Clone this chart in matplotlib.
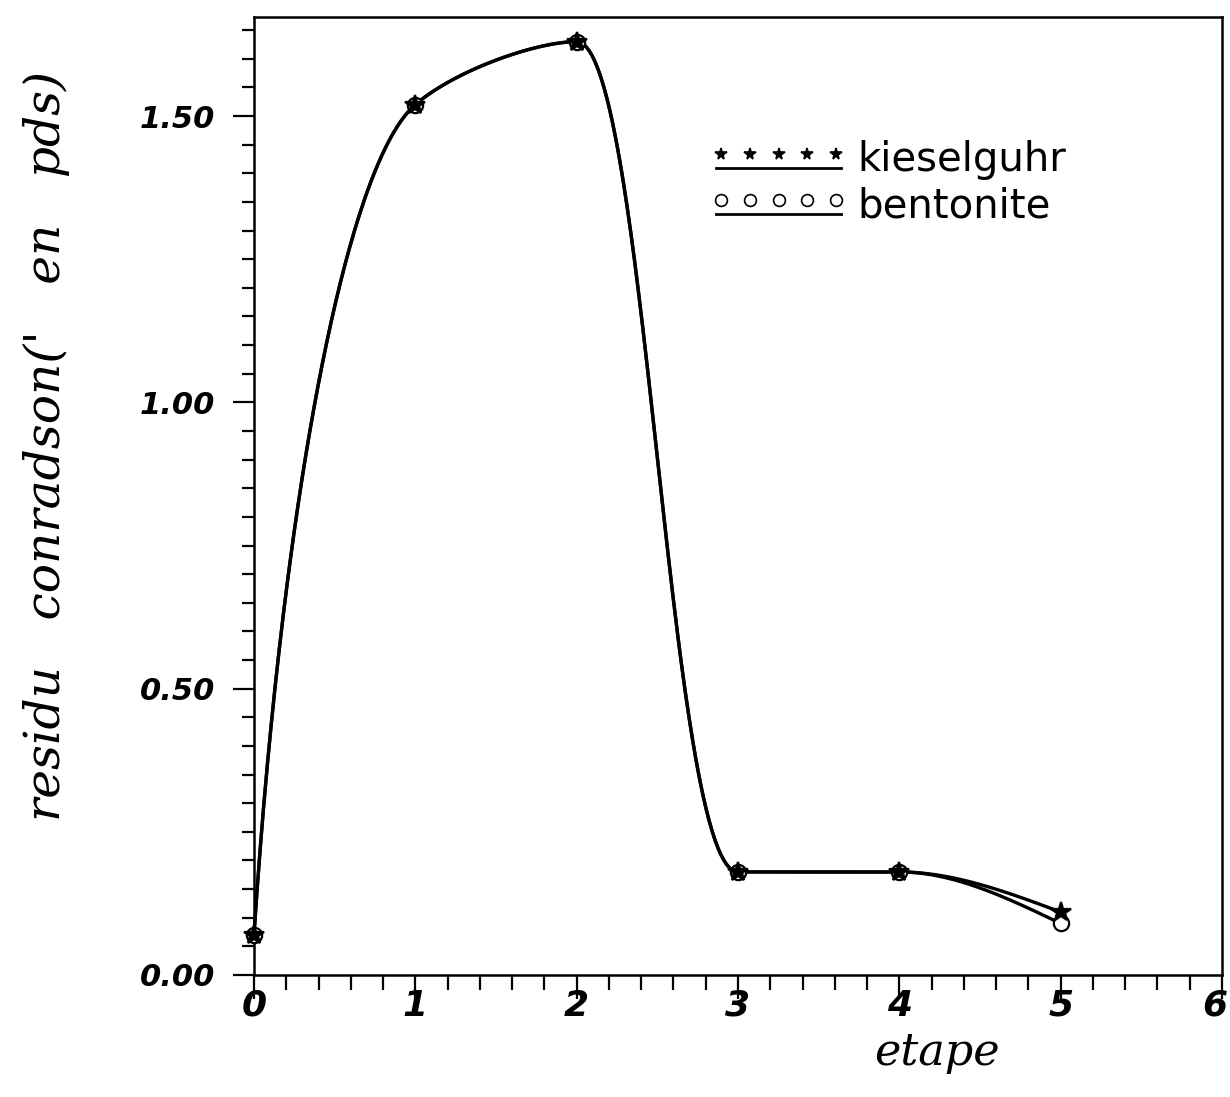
import numpy as np
import matplotlib
matplotlib.use("Agg")
import matplotlib.pyplot as plt
import matplotlib.transforms as mtrans
from matplotlib.lines import Line2D
from matplotlib.legend_handler import HandlerBase
from matplotlib.ticker import MultipleLocator

# ---- data ----
etape = [0, 1, 2, 3, 4, 5]
kieselguhr = [0.07, 1.52, 1.63, 0.18, 0.18, 0.11]
bentonite = [0.07, 1.52, 1.63, 0.18, 0.18, 0.09]

x_ticks = [0, 1, 2, 3, 4, 5, 6]
y_ticks = [0.0, 0.5, 1.0, 1.5]


def pchip_slopes(t, v):
    """Fritsch-Carlson derivative estimates (shape preserving)"""
    h = np.diff(t)
    d = np.diff(v) / h
    m = np.zeros(len(t))
    for k in range(1, len(t) - 1):
        if d[k - 1] * d[k] > 0:
            w1, w2 = 2 * h[k] + h[k - 1], h[k] + 2 * h[k - 1]
            m[k] = (w1 + w2) / (w1 / d[k - 1] + w2 / d[k])
    for k, h0, h1, d0, d1 in [(0, h[0], h[1], d[0], d[1]),
                              (-1, h[-1], h[-2], d[-1], d[-2])]:
        e = ((2 * h0 + h1) * d0 - h0 * d1) / (h0 + h1)
        if np.sign(e) != np.sign(d0):
            e = 0.0
        elif np.sign(d0) != np.sign(d1) and abs(e) > abs(3 * d0):
            e = 3 * d0
        m[k] = e
    return m


def smooth_curve(xs, ys, npts=120):
    """parametric monotone cubic through the points (chord length parameter)"""
    xs, ys = np.asarray(xs, float), np.asarray(ys, float)
    t = np.concatenate([[0], np.cumsum(np.hypot(np.diff(xs), np.diff(ys)))])
    mx, my = pchip_slopes(t, xs), pchip_slopes(t, ys)
    s = np.linspace(0, 1, npts)
    h00, h10 = 2 * s**3 - 3 * s**2 + 1, s**3 - 2 * s**2 + s
    h01, h11 = -2 * s**3 + 3 * s**2, s**3 - s**2
    cx, cy = [], []
    for i in range(len(t) - 1):
        hi = t[i + 1] - t[i]
        sl = slice(0, None) if i == 0 else slice(1, None)
        cx.append((h00 * xs[i] + h10 * hi * mx[i] + h01 * xs[i + 1] + h11 * hi * mx[i + 1])[sl])
        cy.append((h00 * ys[i] + h10 * hi * my[i] + h01 * ys[i + 1] + h11 * hi * my[i + 1])[sl])
    return np.concatenate(cx), np.concatenate(cy)


class RowOfMarkers(HandlerBase):
    """five markers above a solid line, like the old plotter legend"""
    def create_artists(self, legend, orig, xdescent, ydescent, width, height, fontsize, trans):
        xs = np.linspace(0.04 * width, 0.96 * width, 5) - xdescent
        y_mark = 0.62 * height - ydescent
        y_line = 0.12 * height - ydescent
        marks = Line2D(xs, [y_mark] * 5, linestyle='none', marker=orig.get_marker(),
                       markersize=8.5,
                       markerfacecolor=orig.get_markerfacecolor(),
                       markeredgecolor='black', markeredgewidth=1.2, transform=trans)
        line = Line2D([-xdescent, width - xdescent], [y_line, y_line], color='black',
                      lw=2.0, transform=trans)
        return [marks, line]


fig = plt.figure(figsize=(12.3, 10.97), dpi=100)
W, H = 1230, 1097
ax = fig.add_axes([254 / W, 1 - 975 / H, (1222 - 254) / W, (975 - 17) / H])
ax.set_xlim(0, 6)
ax.set_ylim(0, 1.673)

for name, vals, mk, ms, fc in [('bentonite', bentonite, 'o', 11, 'white'),
                               ('kieselguhr', kieselguhr, '*', 15, 'black')]:
    cx, cy = smooth_curve(etape, vals)
    ax.plot(cx, cy, color='black', lw=2.4, zorder=2, clip_on=False)
    ax.plot(etape, vals, linestyle='none', marker=mk, markersize=ms,
            markerfacecolor=fc, markeredgecolor='black', markeredgewidth=1.6,
            zorder=3, clip_on=False, label=name)

# legend: kieselguhr first
h, l = ax.get_legend_handles_labels()
ax.legend(h[::-1], l[::-1], handler_map={Line2D: RowOfMarkers()},
          loc='upper left', bbox_to_anchor=(0.44, 0.909), frameon=False,
          handlelength=3.1, handletextpad=0.4, labelspacing=0.15,
          prop={'family': 'DejaVu Sans', 'size': 29})

# ticks
ax.xaxis.set_minor_locator(MultipleLocator(0.2))
ax.yaxis.set_minor_locator(MultipleLocator(0.05))
ax.set_xticks(x_ticks)
ax.set_yticks(y_ticks)
ax.set_xticklabels([str(v) for v in x_ticks])
ax.set_yticklabels([f'{v:.2f}' for v in y_ticks])

ax.tick_params(axis='both', which='both', direction='out', width=1.6, color='black')
ax.tick_params(axis='x', which='major', length=17, pad=-7)
ax.tick_params(axis='x', which='minor', length=11)
ax.tick_params(axis='y', which='major', length=15, pad=13)
ax.tick_params(axis='y', which='minor', length=9)

for lab in ax.get_xticklabels():
    lab.set_fontfamily('DejaVu Sans')
    lab.set_fontstyle('italic')
    lab.set_fontweight('bold')
    lab.set_fontsize(26)
# last label sits against the page edge
last = ax.get_xticklabels()[-1]
last.set_transform(last.get_transform()
                   + mtrans.ScaledTranslation(-5 / 72, 0, fig.dpi_scale_trans))
for lab in ax.get_yticklabels():
    lab.set_fontfamily('DejaVu Sans')
    lab.set_fontstyle('italic')
    lab.set_fontweight('bold')
    lab.set_fontsize(22)

for sp in ax.spines.values():
    sp.set_linewidth(1.8)

# axis labels, serif italic
ax.set_xlabel('etape', family='DejaVu Serif', style='italic', fontsize=32)
ax.xaxis.set_label_coords(0.705, -0.058)
ax.set_ylabel("residu   conradson('   en   pds)", family='DejaVu Serif',
              style='italic', fontsize=35)
ax.yaxis.set_label_coords(-0.19, 0.552)

fig.savefig('out.png', dpi=100)
